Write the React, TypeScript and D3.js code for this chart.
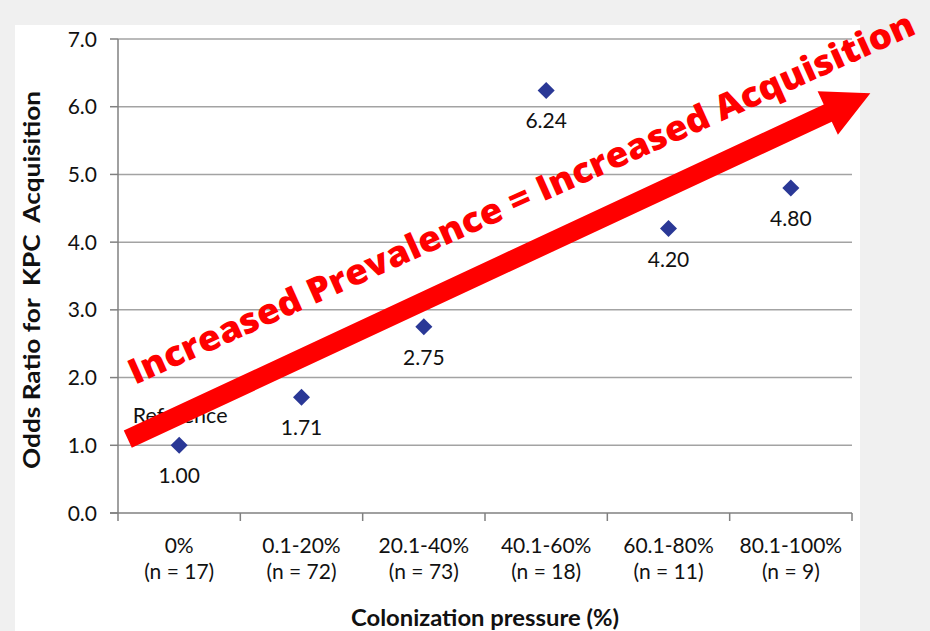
import React from "react";
import * as d3 from "d3";

const categories = ["0%", "0.1-20%", "20.1-40%", "40.1-60%", "60.1-80%", "80.1-100%"];
const counts = ["(n = 17)", "(n = 72)", "(n = 73)", "(n = 18)", "(n = 11)", "(n = 9)"];
const oddsRatios = [1.0, 1.71, 2.75, 6.24, 4.2, 4.8];
const valueLabels = ["1.00", "1.71", "2.75", "6.24", "4.20", "4.80"];
const yTicks = [0, 1, 2, 3, 4, 5, 6, 7];
// annotation arrow in data space: [category-position, odds ratio]
const arrowStart: [number, number] = [0.08, 1.09];
const arrowTip: [number, number] = [6.15, 6.2];
const arrowText = "Increased Prevalence = Increased Acquisition";

const W = 930;
const H = 631;
const left = 118;
const right = 852;
const top = 39;
const bottom = 513;
const FONT = "Lato, 'Open Sans', sans-serif";
const FS = 21;

export default function App() {
  const x = d3.scaleBand<string>().domain(categories).range([left, right]).paddingInner(0).paddingOuter(0);
  const xLin = d3.scaleLinear().domain([0, categories.length]).range([left, right]);
  const y = d3.scaleLinear().domain([0, 7]).range([bottom, top]);
  const bw = x.bandwidth();

  const sx = xLin(arrowStart[0]);
  const sy = y(arrowStart[1]);
  const tx = xLin(arrowTip[0]);
  const ty = y(arrowTip[1]);
  const len = Math.hypot(tx - sx, ty - sy);
  const ux = (tx - sx) / len;
  const uy = (ty - sy) / len;
  const px = -uy;
  const py = ux;
  const headLen = 47;
  const headHalf = 24;
  const shaftHalf = 9.5;
  const bx = tx - ux * headLen;
  const by = ty - uy * headLen;
  const arrowPath = d3.path();
  arrowPath.moveTo(sx + px * shaftHalf, sy + py * shaftHalf);
  arrowPath.lineTo(bx + px * shaftHalf, by + py * shaftHalf);
  arrowPath.lineTo(bx + px * headHalf, by + py * headHalf);
  arrowPath.lineTo(tx, ty);
  arrowPath.lineTo(bx - px * headHalf, by - py * headHalf);
  arrowPath.lineTo(bx - px * shaftHalf, by - py * shaftHalf);
  arrowPath.lineTo(sx - px * shaftHalf, sy - py * shaftHalf);
  arrowPath.closePath();

  const diamond = d3.symbol().type(d3.symbolSquare).size(145)();

  const boundaries = d3.range(categories.length + 1).map((i) => left + i * bw);

  return (
    <svg width={W} height={H} style={{ position: "absolute", left: 0, top: 0 }} fontFamily={FONT}>
      <rect x={0} y={0} width={W} height={H} fill="#f0f0f0" />
      <rect x={15} y={25} width={845} height={H - 25} fill="#ffffff" />

      {/* gridlines */}
      {yTicks.filter((t) => t > 0).map((t) => (
        <line key={"g" + t} x1={left} x2={right} y1={y(t)} y2={y(t)} stroke="#a3a3a3" strokeWidth={1.5} />
      ))}
      {/* y ticks */}
      {yTicks.map((t) => (
        <g key={"yt" + t}>
          <line x1={left - 8} x2={left} y1={y(t)} y2={y(t)} stroke="#808080" strokeWidth={1.5} />
          <text x={97} y={y(t)} dy="0.36em" textAnchor="end" fontSize={FS} fill="#111">
            {t.toFixed(1)}
          </text>
        </g>
      ))}
      {/* axes */}
      <line x1={left} x2={left} y1={top} y2={bottom} stroke="#808080" strokeWidth={1.5} />
      <line x1={left - 8} x2={right} y1={bottom} y2={bottom} stroke="#808080" strokeWidth={1.5} />
      {boundaries.map((b, i) => (
        <line key={"xt" + i} x1={b} x2={b} y1={bottom} y2={bottom + 8} stroke="#808080" strokeWidth={1.5} />
      ))}
      {/* x labels */}
      {categories.map((c, i) => (
        <g key={"xl" + c}>
          <text x={(x(c) as number) + bw / 2} y={553} textAnchor="middle" fontSize={FS} fill="#111">
            {c}
          </text>
          <text x={(x(c) as number) + bw / 2} y={579} textAnchor="middle" fontSize={FS} fill="#111">
            {counts[i]}
          </text>
        </g>
      ))}
      <text
        x={(left + right) / 2}
        y={626}
        textAnchor="middle"
        fontSize={22}
        fontWeight={700}
        fill="#111"
        textLength={268}
        lengthAdjust="spacingAndGlyphs"
      >
        Colonization pressure (%)
      </text>
      <text
        transform={`translate(40, ${(top + bottom) / 2 + 4}) rotate(-90)`}
        textAnchor="middle"
        fontSize={22}
        fontWeight={700}
        fill="#111"
        textLength={378}
        lengthAdjust="spacingAndGlyphs"
        style={{ whiteSpace: "pre" }}
      >
        {"Odds Ratio for  KPC  Acquisition"}
      </text>

      {/* points */}
      {oddsRatios.map((v, i) => {
        const cx = (x(categories[i]) as number) + bw / 2;
        const cy = y(v);
        return (
          <g key={"p" + i}>
            <path d={diamond as string} transform={`translate(${cx},${cy}) rotate(45)`} fill="#2a3896" />
            <text x={cx} y={cy + 38} textAnchor="middle" fontSize={FS} fill="#111">
              {valueLabels[i]}
            </text>
          </g>
        );
      })}
      <text x={(x(categories[0]) as number) + bw / 2 + 1} y={y(oddsRatios[0]) - 22} textAnchor="middle" fontSize={21.5} fill="#111">
        Reference
      </text>

      {/* annotation arrow */}
      <path d={arrowPath.toString()} fill="#ff0000" />
      <text
        transform={`translate(135, 385) rotate(-24.2)`}
        fontSize={35}
        fontWeight={800}
        fill="#ff0000"
        textLength={858}
        lengthAdjust="spacingAndGlyphs"
        fontFamily="'Open Sans', sans-serif"
      >
        {arrowText}
      </text>
    </svg>
  );
}
